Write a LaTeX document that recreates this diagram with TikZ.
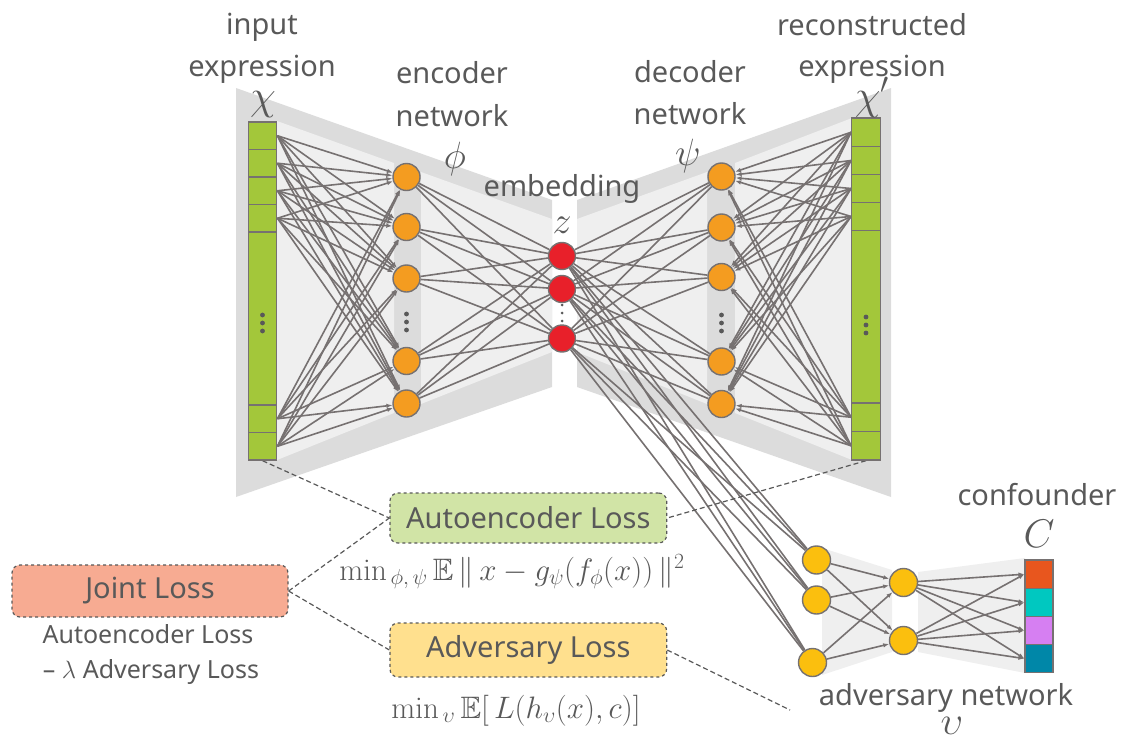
\RequirePackage{fix-cm}
\documentclass[tikz,border=0pt]{standalone}
\usepackage{amssymb}
\usepackage[no-math]{fontspec}
\setmainfont{Noto Sans}
\usetikzlibrary{arrows.meta}
\definecolor{lc}{HTML}{767171}
\definecolor{tc}{HTML}{595959}
\definecolor{bgdark}{HTML}{DCDCDC}
\definecolor{bglight}{HTML}{EFEFEF}
\definecolor{gfill}{HTML}{A3C73A}
\definecolor{ofill}{HTML}{F49C20}
\definecolor{rfill}{HTML}{E8202A}
\definecolor{yfill}{HTML}{FBBF0E}
\definecolor{cfA}{HTML}{E8561E}
\definecolor{cfB}{HTML}{00C8C0}
\definecolor{cfC}{HTML}{D67FF2}
\definecolor{cfD}{HTML}{0087A8}
\definecolor{aefill}{HTML}{D1E4A6}
\definecolor{advfill}{HTML}{FFE08E}
\definecolor{jlfill}{HTML}{F7AB92}
\pgfdeclarelayer{bg}
\pgfdeclarelayer{edges}
\pgfsetlayers{bg,edges,main}
\tikzset{
  wire/.style={draw=lc, line width=1.6pt},
  arr/.style={-{Latex[length=6pt,width=4.5pt]}},
  neuron/.style={circle, minimum size=27pt, inner sep=0pt, draw=lc, line width=1.4pt},
  onode/.style={neuron, fill=ofill},
  rnode/.style={neuron, fill=rfill},
  ynode/.style={neuron, fill=yfill, minimum size=28pt},
  cell/.style={rectangle, draw=lc, line width=1.4pt, fill=gfill, minimum width=28.5pt, inner sep=0pt},
  ccell/.style={rectangle, draw=lc, line width=1.4pt, minimum width=27.7pt, minimum height=28.2pt, inner sep=0pt},
  lbl/.style={text=tc, font=\fontsize{29}{34}\selectfont, inner sep=0pt, anchor=base},
  slbl/.style={text=tc, font=\fontsize{25}{30}\selectfont, inner sep=0pt, anchor=base},
  sym/.style={text=tc, inner sep=0pt, anchor=base},
  lossbox/.style={rectangle, rounded corners=8pt, draw=tc, dashed, line width=1.2pt, text=tc, font=\fontsize{29}{34}\selectfont, inner sep=0pt},
  dline/.style={draw=tc, line width=1.2pt, dash pattern=on 5pt off 3pt},
  dot/.style={fill=tc}
}
\begin{document}
\begin{tikzpicture}[x=1pt,y=-1pt]
\useasboundingbox (0,0) rectangle (1122,742);

% ---------- backgrounds ----------
\begin{pgfonlayer}{bg}
\fill[bgdark] (236,88) -- (552,200) -- (552,387) -- (236,497) -- cycle;
\fill[bglight] (277,121) -- (394,163) -- (394,413) -- (277,460) -- cycle;
\fill[bglight] (421,172) -- (552,219) -- (552,352) -- (421,404) -- cycle;
\fill[bgdark] (577,200) -- (891,88) -- (891,497) -- (577,387) -- cycle;
\fill[bglight] (577,219) -- (707,172) -- (707,404) -- (577,352) -- cycle;
\fill[bglight] (735,163) -- (852,118) -- (852,460) -- (735,413) -- cycle;
\fill[bglight] (822,548) -- (892,570) -- (892,652) -- (822,675) -- cycle;
\fill[bglight] (918,572) -- (1025,558) -- (1025,673) -- (918,652) -- cycle;
\end{pgfonlayer}

% ---------- input bar ----------
\node[cell, minimum height=27.5pt] (g1) at (262.5,135.75) {};
\node[cell, minimum height=27.5pt] (g2) at (262.5,163.25) {};
\node[cell, minimum height=27.5pt] (g3) at (262.5,190.75) {};
\node[cell, minimum height=27.5pt] (g4) at (262.5,218.25) {};
\node[cell, minimum height=173pt] (g5) at (262.5,318.5) {};
\node[cell, minimum height=27.5pt] (g6) at (262.5,418.75) {};
\node[cell, minimum height=27.5pt] (g7) at (262.5,446.25) {};
\foreach \yy in {315,323,331} \fill[dot] (262.5,\yy) circle (2.4pt);

% ---------- output bar ----------
\node[cell, minimum height=28.5pt] (h1) at (866,132.25) {};
\node[cell, minimum height=28pt] (h2) at (866,160.5) {};
\node[cell, minimum height=28pt] (h3) at (866,188.5) {};
\node[cell, minimum height=28pt] (h4) at (866,216.5) {};
\node[cell, minimum height=172.5pt] (h5) at (866,316.75) {};
\node[cell, minimum height=28.5pt] (h6) at (866,417.25) {};
\node[cell, minimum height=28.5pt] (h7) at (866,445.75) {};
\foreach \yy in {317,325,333} \fill[dot] (866,\yy) circle (2.4pt);

% ---------- encoder nodes ----------
\node[onode] (o1) at (406.5,177) {};
\node[onode] (o2) at (406.5,227) {};
\node[onode] (o3) at (406.5,278.5) {};
\node[onode] (o4) at (406.5,361) {};
\node[onode] (o5) at (406.5,403.5) {};
\foreach \yy in {314,322,330} \fill[dot] (406.5,\yy) circle (2.4pt);

% ---------- embedding ----------
\node[rnode] (r1) at (562,256) {};
\node[rnode] (r2) at (562,289) {};
\node[rnode] (r3) at (562,338.5) {};
\foreach \yy in {305,313,321} \fill[dot] (562,\yy) circle (1.5pt);

% ---------- decoder nodes ----------
\node[onode] (d1) at (721.5,176.5) {};
\node[onode] (d2) at (721.5,227.5) {};
\node[onode] (d3) at (721.5,277) {};
\node[onode] (d4) at (721.5,361.5) {};
\node[onode] (d5) at (721.5,404) {};
\foreach \yy in {315,323,331} \fill[dot] (721.5,\yy) circle (2.4pt);

% ---------- adversary network ----------
\node[ynode] (a1) at (816.5,560) {};
\node[ynode] (a2) at (816.5,600) {};
\node[ynode] (a3) at (812.5,662.5) {};
\node[ynode] (b1) at (903.5,582.5) {};
\node[ynode] (b2) at (903.5,640.5) {};
\node[ccell, fill=cfA] (c1) at (1039,574.2) {};
\node[ccell, fill=cfB] (c2) at (1039,602.4) {};
\node[ccell, fill=cfC] (c3) at (1039,630.6) {};
\node[ccell, fill=cfD] (c4) at (1039,658.6) {};

% ---------- connections ----------
\begin{pgfonlayer}{edges}
\foreach \i in {1,2,3,4,6,7}
  \foreach \j in {1,...,5}
    \draw[wire,arr] (g\i.east) -- (o\j);
\foreach \i in {1,...,5}
  \foreach \j in {1,2,3}
    \draw[wire] (o\i) -- (r\j);
\foreach \i in {1,2,3}
  \foreach \j in {1,...,5}
    \draw[wire] (r\i) -- (d\j);
\foreach \i in {1,2,3,4,6,7}
  \foreach \j in {1,...,5}
    \draw[wire,arr] (h\i.west) -- (d\j);
\foreach \i in {1,2,3}
  \foreach \j in {1,2,3}
    \draw[wire] (r\i) -- (a\j);
\foreach \i in {1,2,3}
  \foreach \j in {1,2}
    \draw[wire,arr] (a\i) -- (b\j);
\foreach \i in {1,2}
  \foreach \j in {1,...,4}
    \draw[wire,arr] (b\i) -- (c\j.west);
\end{pgfonlayer}

% ---------- labels ----------
\node[lbl] (tIn1) at (262,34) {input};
\node[lbl] (tIn2) at (262,76) {expression};
\node[sym, font=\fontsize{42}{44}\selectfont] (tChi) at (263,109) {$\chi$};
\node[lbl] (tEnc1) at (452,83) {encoder};
\node[lbl] (tEnc2) at (452,126) {network};
\node[sym, font=\fontsize{38}{40}\selectfont] (tPhi) at (455,168) {$\phi$};
\node[lbl] (tEmb) at (562,196) {embedding};
\node[sym, font=\fontsize{38}{40}\selectfont] (tZ) at (562,233) {$z$};
\node[lbl] (tDec1) at (690,82) {decoder};
\node[lbl] (tDec2) at (690,124) {network};
\node[sym, font=\fontsize{38}{40}\selectfont] (tPsi) at (688,165) {$\psi$};
\node[lbl] (tRec1) at (872,35) {reconstructed};
\node[lbl] (tRec2) at (872,76) {expression};
\node[sym, font=\fontsize{42}{44}\selectfont] (tChiP) at (872,109) {$\chi'$};
\node[lbl] (tConf) at (1037,505) {confounder};
\node[sym, font=\fontsize{40}{44}\selectfont] (tC) at (1039,547) {$C$};
\node[lbl] (tAdvN) at (946,705) {adversary network};
\node[sym, font=\fontsize{40}{42}\selectfont] (tUps) at (952,734) {$\upsilon$};

% ---------- loss boxes ----------
\node[lossbox, fill=aefill, minimum width=276.7pt, minimum height=50pt] (ae) at (528.3,518) {Autoencoder Loss};
\node[lossbox, fill=advfill, minimum width=276.7pt, minimum height=54pt] (adv) at (528.3,650) {Adversary Loss};
\node[lossbox, fill=jlfill, minimum width=276pt, minimum height=52pt] (jl) at (150,591) {Joint Loss};
\node[slbl] (jlA) at (148,643) {Autoencoder Loss};
\node[slbl] (jlB) at (151,678) {– $\lambda$ Adversary Loss};
\node[sym, font=\fontsize{31}{34}\selectfont] (aeF) at (512,580) {$\min_{\,\phi,\,\psi}\mathbb{E}\,\|\,x-g_\psi(f_\phi(x))\,\|^2$};
\node[sym, font=\fontsize{31}{34}\selectfont] (advF) at (516,718) {$\min_{\,\upsilon}\mathbb{E}[\,L(h_\upsilon(x),c)]$};

% ---------- dashed links ----------
\coordinate (advEnd) at (790,710);
\begin{pgfonlayer}{edges}
\draw[dline] (g7.south) -- (ae.west);
\draw[dline] (h7.south) -- (ae.east);
\draw[dline] (jl.east) -- (ae.west);
\draw[dline] (jl.east) -- (adv.west);
\draw[dline] (adv.east) -- (advEnd);
\end{pgfonlayer}
\end{tikzpicture}
\end{document}
